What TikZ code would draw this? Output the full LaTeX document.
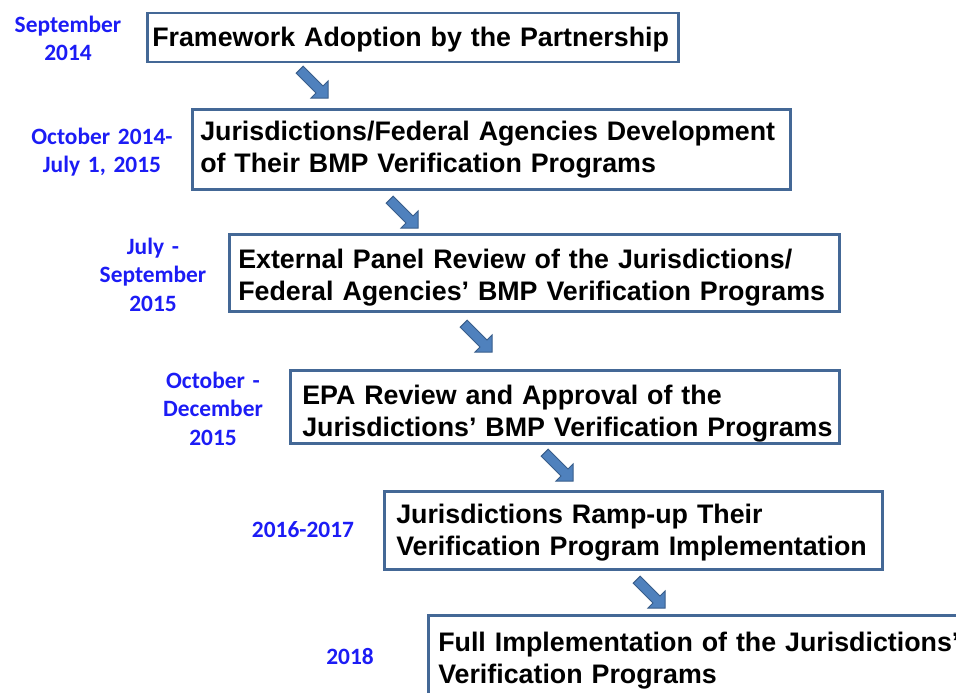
\documentclass[tikz,border=0pt]{standalone}
\usepackage{fontspec}
\setmainfont{Liberation Sans}
\newfontfamily\datefont{Carlito}
\definecolor{framecol}{RGB}{68,104,150}
\definecolor{arrowfill}{RGB}{79,129,189}
\definecolor{arrowedge}{RGB}{56,93,138}
\definecolor{datecol}{RGB}{28,28,245}
% keep each printed line on one row
\newcommand\oneline[1]{\mbox{#1}}
\begin{document}
\begin{tikzpicture}[x=1pt,y=-1pt,
  stage/.style={draw=framecol, line width=2.5pt, fill=white, anchor=north west,
    align=left, inner ysep=0pt, text height=19.2pt, text depth=32pt,
    font=\bfseries\fontsize{26.8}{32}\selectfont},
  datelabel/.style={text=datecol, anchor=base, align=center, text width=160pt,
    inner sep=0pt, font=\datefont\bfseries\fontsize{23.4}{28.5}\selectfont},
  arrowblock/.style={fill=arrowfill, draw=arrowedge, line width=1pt, line join=miter}]
\useasboundingbox (0,0) rectangle (956,693);
\clip (0,0) rectangle (956,693);

% stages of the verification timeline
\node[stage, minimum width=531pt, minimum height=49pt, inner xsep=5pt, text width=521pt,
  text height=17.2pt, text depth=0pt]
  (b1) at (146,12) {\oneline{Framework Adoption by the Partnership}};
\node[stage, minimum width=598pt, minimum height=80pt, inner xsep=8pt, text width=582pt,
  text height=15.2pt]
  (b2) at (191,108) {\oneline{Jurisdictions/Federal Agencies Development}\\\oneline{of Their BMP Verification Programs}};
\node[stage, minimum width=610pt, minimum height=77pt, inner xsep=9pt, text width=592pt,
  text height=24pt]
  (b3) at (228,233) {\oneline{External Panel Review of the Jurisdictions/}\\\oneline{Federal Agencies’ BMP Verification Programs}};
\node[stage, minimum width=549pt, minimum height=73pt, inner xsep=12pt, text width=525pt,
  text height=27.5pt]
  (b4) at (289,369) {\oneline{EPA Review and Approval of the}\\\oneline{Jurisdictions’ BMP Verification Programs}};
\node[stage, minimum width=498pt, minimum height=78pt, inner xsep=12pt, text width=474pt]
  (b5) at (383,490) {\oneline{Jurisdictions Ramp-up Their}\\\oneline{Verification Program Implementation}};
\node[stage, minimum width=560pt, minimum height=86pt, inner xsep=10pt, text width=540pt]
  (b6) at (427,614) {\oneline{Full Implementation of the Jurisdictions’}\\\oneline{Verification Programs}};

% dates
\node[datelabel] (d1) at (68,32.4) {September\\2014};
\node[datelabel] (d2) at (102,144.4) {October 2014-\\July 1, 2015};
\node[datelabel] (d3) at (153,254) {July -\\September\\2015};
\node[datelabel] (d4) at (213,388.4) {October -\\December\\2015};
\node[datelabel] (d5) at (303,537.4) {2016-2017};
\node[datelabel] (d6) at (350,664.4) {2018};

% block arrows between stages, placed by their tips
\coordinate (tip1) at (328,98);
\coordinate (tip2) at (418,228);
\coordinate (tip3) at (492,352);
\coordinate (tip4) at (573,481);
\coordinate (tip5) at (665,608);
\foreach \t in {tip1,tip2,tip3,tip4,tip5}
  \draw[arrowblock, shift={(\t)}] (0,0) -- (0,-17) -- (-5,-12) -- (-24.8,-31.8)
    -- (-31.8,-24.8) -- (-12,-5) -- (-17,0) -- cycle;
\end{tikzpicture}
\end{document}
